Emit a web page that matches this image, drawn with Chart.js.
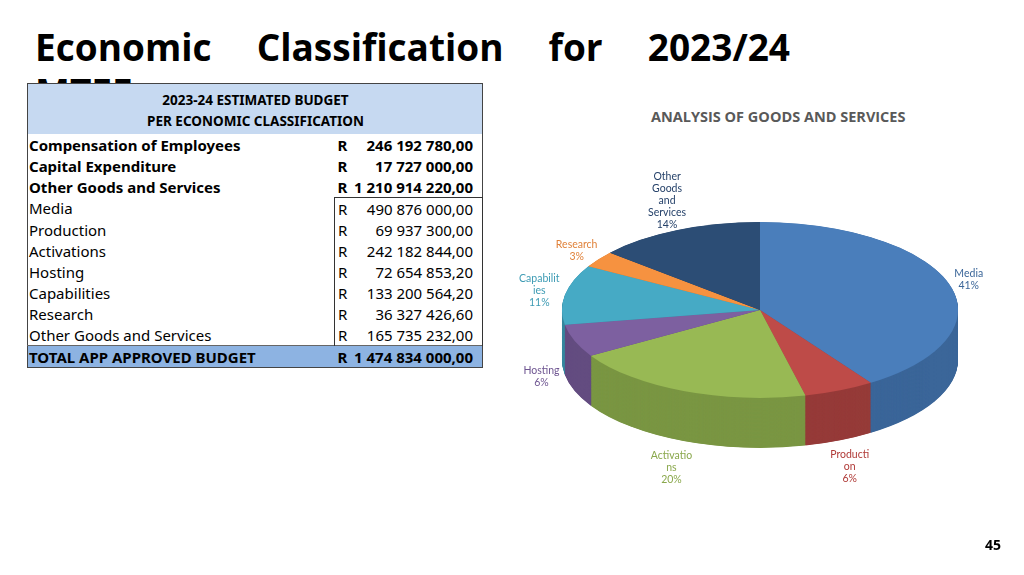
<!DOCTYPE html>
<html><head><meta charset="utf-8">
<script src="https://cdn.jsdelivr.net/npm/chart.js@4"></script>
<style>
body{margin:0;width:1024px;height:575px;background:#fff;position:relative;overflow:hidden;font-family:"Open Sans",sans-serif}
#title{position:absolute;left:35px;top:21px;width:755px;font-weight:700;font-size:37px;line-height:52px;text-align:justify;text-align-last:justify;color:#000}
#title2{position:absolute;left:35px;top:66px;font-weight:700;font-size:37px;line-height:52px}
table{position:absolute;left:27px;top:83px;width:456px;border-collapse:collapse;font-family:"Noto Sans",sans-serif;font-size:15px;background:#fff;border:1px solid #444}
td{padding:0 0 0 1px;height:21px;line-height:20px;white-space:nowrap}
.hd td{background:#c6d9f1;text-align:center;font-weight:700;font-size:13.5px;height:46px;line-height:21px;padding-top:4px}
.b{font-weight:700}
.r{width:14px;padding-left:3px}
.v{text-align:right;padding-right:9px;width:120px}
.tot td{background:#8db3e2;font-weight:700;border-top:1px solid #666}
#ct{position:absolute;left:651px;top:107px;font-family:"Open Sans",sans-serif;font-weight:700;font-size:14.5px;color:#595959}
#pg{position:absolute;left:985px;top:535px;font-weight:700;font-size:14px}
#wrap{position:absolute;left:480px;top:50px;width:560px;height:520px}
</style></head><body>
<div id="title">Economic Classification for 2023/24</div>
<div id="title2">MTEF</div>
<table id="tbl"></table>
<div id="ct">ANALYSIS OF GOODS AND SERVICES</div>
<div id="wrap"><canvas id="c"></canvas></div>
<div id="pg">45</div>
<script>
const topRows=["Compensation of Employees","Capital Expenditure","Other Goods and Services"];
const topValues=["246 192 780,00","17 727 000,00","1 210 914 220,00"];
const categories=["Media","Production","Activations","Hosting","Capabilities","Research","Other Goods and Services"];
const amounts=[490876000.00,69937300.00,242182844.00,72654853.20,133200564.20,36327426.60,165735232.00];
const amountText=["490 876 000,00","69 937 300,00","242 182 844,00","72 654 853,20","133 200 564,20","36 327 426,60","165 735 232,00"];
const totalText="1 474 834 000,00";
const pieLabels=[["Media"],["Producti","on"],["Activatio","ns"],["Hosting"],["Capabilit","ies"],["Research"],["Other","Goods","and","Services"]];
const percentLabels=["41%","6%","20%","6%","11%","3%","14%"];
const colors=["#4a7ebb","#be4b48","#98b954","#7d60a0","#46aac5","#f69240","#2c4d75"];
const sideColors=["#3b6699","#963b39","#7a9643","#634c80","#37889e","#c57433","#213a58"];
const labelColors=["#3b6699","#b03a37","#8aa84c","#6e5591","#3d9bb4","#e0823a","#26426a"];

let h='<tr class="hd"><td colspan="3">2023-24 ESTIMATED BUDGET<br>PER ECONOMIC CLASSIFICATION</td></tr>';
topRows.forEach((r,i)=>{h+=`<tr class="b"><td>${r}</td><td class="r">R</td><td class="v">${topValues[i]}</td></tr>`;});
categories.forEach((r,i)=>{const bb=i==0?'border-top:1px solid #333;':'';h+=`<tr><td>${r}</td><td class="r" style="${bb}border-left:1px solid #333">R</td><td class="v" style="${bb}border-right:1px solid #333">${amountText[i]}</td></tr>`;});
h+=`<tr class="tot"><td>TOTAL APP APPROVED BUDGET</td><td class="r">R</td><td class="v">${totalText}</td></tr>`;
document.getElementById('tbl').innerHTML=h;

const S=0.444, DEPTH=50;
const pie3d={id:'pie3d',
 beforeDatasetsDraw(chart){
  const ctx=chart.ctx, meta=chart.getDatasetMeta(0);
  const p0=meta.data[0].getProps(['x','y'],true);
  ctx.save();
  ctx.translate(0,p0.y*(1-S)); ctx.scale(1,S);
  for(let d=DEPTH/S; d>0; d-=1){
   meta.data.forEach((a,i)=>{
    const p=a.getProps(['x','y','startAngle','endAngle','outerRadius'],true);
    ctx.beginPath();ctx.moveTo(p.x,p.y+d);ctx.arc(p.x,p.y+d,p.outerRadius,p.startAngle,p.endAngle);ctx.closePath();
    ctx.fillStyle=sideColors[i];ctx.fill();
   });
  }
  meta.data.forEach((a,i)=>{
    const p=a.getProps(['x','y','startAngle','endAngle','outerRadius'],true);
    ctx.beginPath();ctx.moveTo(p.x,p.y);ctx.arc(p.x,p.y,p.outerRadius,p.startAngle,p.endAngle);ctx.closePath();
    ctx.fillStyle=colors[i];ctx.fill();
  });
  ctx.restore();
  return false;
 },
 afterDraw(chart){
  const ctx=chart.ctx, meta=chart.getDatasetMeta(0);
  ctx.save();ctx.font='10.5px Lato, sans-serif';ctx.textAlign='center';ctx.textBaseline='middle';
  meta.data.forEach((a,i)=>{
   const p=a.getProps(['x','y','startAngle','endAngle','outerRadius'],true);
   const m=(p.startAngle+p.endAngle)/2, c=Math.cos(m), s=Math.sin(m);
   const lines=[...pieLabels[i],percentLabels[i]];
   const lh=12;
   let hw=0; lines.forEach(t=>hw=Math.max(hw,ctx.measureText(t).width/2));
   const hh=lines.length*lh/2;
   const k=1.03;
   let x=p.x+p.outerRadius*k*c + c*hw;
   let y=p.y+p.outerRadius*S*k*s + s*hh;
   if(s>0){ y+=DEPTH*Math.min(1,s*1.6)+8*s; if(c<0) x-=12*Math.abs(c)*Math.abs(c); }
   ctx.fillStyle=labelColors[i];
   lines.forEach((t,j)=>ctx.fillText(t,x,y-hh+lh/2+j*lh));
  });
  ctx.restore();
 }};
new Chart(document.getElementById('c'),{type:'pie',
 data:{labels:categories,datasets:[{data:amounts,backgroundColor:colors,borderWidth:0}]},
 options:{responsive:true,maintainAspectRatio:false,animation:false,layout:{padding:{left:82,right:82,top:62,bottom:62}},
  plugins:{legend:{display:false},tooltip:{enabled:false}}},
 plugins:[pie3d]});
</script></body></html>
